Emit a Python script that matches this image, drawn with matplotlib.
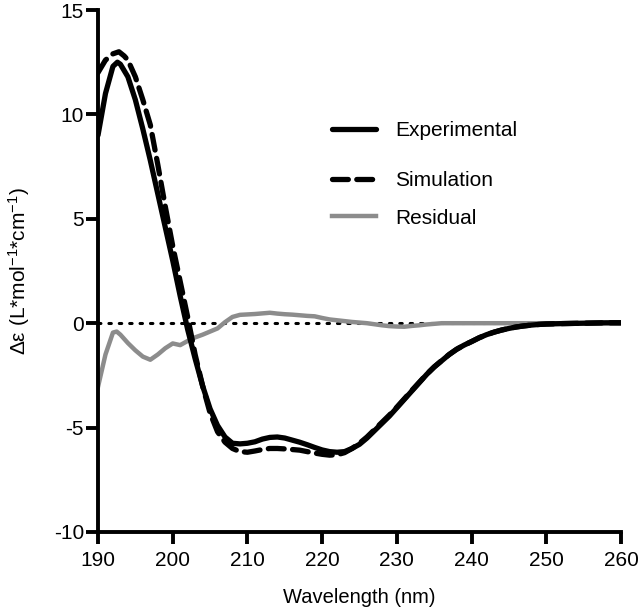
import matplotlib
matplotlib.use("Agg")
import matplotlib.pyplot as plt
from matplotlib.legend import Legend

plt.rcParams['font.family'] = ['Liberation Sans', 'DejaVu Sans']
plt.rcParams['mathtext.fontset'] = 'custom'
plt.rcParams['mathtext.rm'] = 'Liberation Sans'
plt.rcParams['mathtext.it'] = 'Liberation Sans:italic'
plt.rcParams['axes.unicode_minus'] = False

# Experimental spectrum
exp_wl = [190, 191, 192, 192.6, 193, 194, 195, 196, 197, 198, 199, 200, 201, 202, 203,
          204, 205, 206, 207, 208, 209, 210, 211, 212, 213, 214, 215, 216, 217, 218,
          219, 220, 221, 222, 223, 224, 225, 226, 227, 228, 229, 230, 231, 232, 233,
          234, 235, 236, 237, 238, 239, 240, 241, 242, 243, 244, 245, 246, 247, 248,
          249, 250, 252, 255, 258, 260]
exp_de = [9.0, 11.0, 12.3, 12.5, 12.4, 11.8, 10.7, 9.3, 7.8, 6.2, 4.6, 3.0, 1.3, -0.3, -1.7,
          -3.0, -4.1, -4.9, -5.45, -5.75, -5.78, -5.75, -5.68, -5.55, -5.47, -5.45, -5.5, -5.6, -5.7, -5.82,
          -5.95, -6.07, -6.15, -6.18, -6.15, -6.0, -5.8, -5.5, -5.15, -4.8, -4.45, -4.05, -3.65, -3.25, -2.85,
          -2.45, -2.1, -1.8, -1.5, -1.25, -1.05, -0.88, -0.7, -0.55, -0.43, -0.33, -0.25, -0.18, -0.13, -0.09,
          -0.06, -0.04, -0.02, 0.0, 0.02, 0.02]

# Simulated spectrum
sim_wl = [190, 191, 192, 192.8, 193.5, 194, 195, 196, 197, 198, 199, 200, 201, 202, 203,
          204, 205, 206, 207, 208, 209, 210, 211, 212, 213, 214, 215, 216, 217, 218,
          219, 220, 221, 222, 223, 224, 225, 226, 227, 228, 229, 230, 231, 232, 233,
          234, 235, 236, 237, 238, 239, 240, 241, 242, 243, 244, 245, 246, 247, 248,
          249, 250, 252, 255, 258, 260]
sim_de = [12.0, 12.6, 12.9, 13.0, 12.8, 12.6, 11.8, 10.7, 9.5, 7.6, 5.6, 3.7, 2.0, 0.3, -1.5,
          -3.0, -4.3, -5.2, -5.7, -6.0, -6.15, -6.18, -6.12, -6.05, -6.0, -6.0, -6.02, -6.05, -6.08, -6.15,
          -6.22, -6.28, -6.32, -6.3, -6.2, -6.0, -5.75, -5.45, -5.1, -4.75, -4.4, -4.02, -3.62, -3.22, -2.83,
          -2.44, -2.09, -1.79, -1.5, -1.25, -1.05, -0.88, -0.7, -0.55, -0.43, -0.33, -0.25, -0.18, -0.13, -0.09,
          -0.06, -0.04, -0.02, 0.0, 0.02, 0.02]

# Residual
res_wl = [190, 191, 192, 192.5, 193, 194, 195, 196, 197, 198, 199, 200, 201, 202, 203,
          204, 205, 206, 207, 208, 209, 210, 211, 212, 213, 214, 215, 216, 217, 218,
          219, 220, 221, 222, 223, 224, 225, 226, 227, 228, 229, 230, 231, 232, 233,
          234, 235, 236, 238, 240, 245, 250, 255, 260]
res_de = [-3.05, -1.5, -0.45, -0.4, -0.55, -0.95, -1.3, -1.6, -1.75, -1.5, -1.2, -0.97, -1.05, -0.85, -0.68,
          -0.55, -0.4, -0.25, 0.05, 0.3, 0.4, 0.42, 0.44, 0.47, 0.5, 0.46, 0.43, 0.41, 0.38, 0.35,
          0.33, 0.25, 0.18, 0.14, 0.1, 0.06, 0.03, 0.0, -0.05, -0.1, -0.14, -0.16, -0.17, -0.13, -0.1,
          -0.06, -0.03, 0.0, 0.0, 0.0, 0.0, 0.0, 0.0, 0.0]

x_ticks = [190, 200, 210, 220, 230, 240, 250, 260]
y_ticks = [-10, -5, 0, 5, 10, 15]
labels = ['Experimental', 'Simulation', 'Residual']

W, H = 640, 615
fig = plt.figure(figsize=(6.4, 6.15), dpi=100)
ax = fig.add_axes([98 / W, 1 - 532 / H, (621 - 98) / W, (532 - 10) / H])

ax.plot([190, 260], [0, 0], color='black', linestyle=(0, (0.8, 2.6)), lw=2.2,
        dash_capstyle='round', zorder=1)
h1, = ax.plot(exp_wl, exp_de, color='black', lw=3.8, zorder=3,
              solid_joinstyle='round', solid_capstyle='round')
h2, = ax.plot(sim_wl, sim_de, color='black', lw=3.8, linestyle=(0, (3, 1.6)),
              zorder=4, dash_capstyle='round')
h3, = ax.plot(res_wl, res_de, color='#8c8c8c', lw=3.2, zorder=2,
              solid_joinstyle='round')

ax.set_xlim(190, 260)
ax.set_ylim(-10, 15)
ax.set_xticks(x_ticks)
ax.set_yticks(y_ticks)
for s in ['top', 'right']:
    ax.spines[s].set_visible(False)
for s in ['left', 'bottom']:
    ax.spines[s].set_linewidth(2.8)
    ax.spines[s].set_capstyle('projecting')
ax.tick_params(axis='both', which='major', direction='out', length=8.5, width=2.8,
               labelsize=15)
ax.tick_params(axis='y', pad=1.5)
ax.tick_params(axis='x', pad=5)

ax.set_xlabel('Wavelength (nm)', fontsize=14.5, labelpad=13)
ax.set_ylabel('Δε (L*mol$^{-1}$*cm$^{-1}$)', fontsize=15, labelpad=16)

# legend entries, placed individually (uneven row spacing as in reference)
rows_y = [131, 181, 218]
for h, lab, yy in zip([h1, h2, h3], labels, rows_y):
    lg = Legend(ax, [h], [lab], loc='center left',
                bbox_to_anchor=(332 / W, 1 - yy / H), bbox_transform=fig.transFigure,
                frameon=False, fontsize=15, handlelength=2.1, handletextpad=0.95,
                borderpad=0, borderaxespad=0)
    ax.add_artist(lg)

fig.savefig('out.png', dpi=100)
